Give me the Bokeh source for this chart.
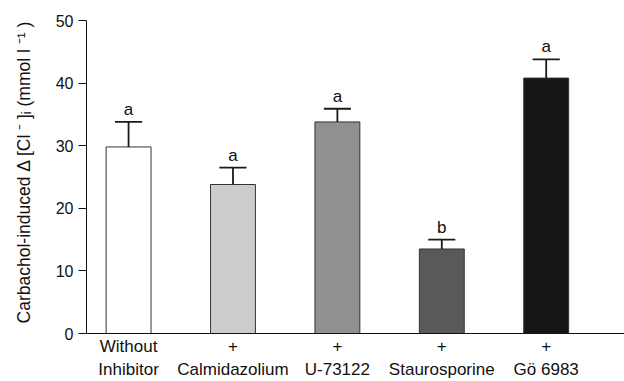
from bokeh.plotting import figure
from bokeh.embed import file_html
from bokeh.resources import INLINE
from bokeh.models import ColumnDataSource, Range1d, FixedTicker
from bokeh.core.properties import value

categories = ["Without\nInhibitor", "+\nCalmidazolium", "+\nU-73122", "+\nStaurosporine", "+\nGö 6983"]
means = [29.8, 23.8, 33.8, 13.5, 40.8]
errors = [4.0, 2.7, 2.1, 1.5, 3.0]
letters = ["a", "a", "a", "b", "a"]
colors = ["#ffffff", "#cbcccd", "#8f9091", "#58595b", "#161616"]
y_ticks = [0, 10, 20, 30, 40, 50]

xs = list(range(1, len(categories) + 1))
tops = [m + e for m, e in zip(means, errors)]
cap = 0.13

src = ColumnDataSource(dict(
    x=xs, mean=means, top=tops, color=colors, letter=letters,
    x0=[x - cap for x in xs], x1=[x + cap for x in xs],
))

FONT = "Liberation Sans"

p = figure(width=624, height=381, output_backend="svg", toolbar_location=None,
           x_range=Range1d(0.597, 5.75), y_range=Range1d(0, 50),
           min_border_left=86, min_border_top=20, min_border_bottom=47, min_border_right=0)

p.vbar(x="x", top="mean", bottom=0, width=0.43, fill_color="color",
       line_color="#333333", line_width=1, source=src)
p.segment(x0="x", y0="mean", x1="x", y1="top", line_color="#1a1a1a", line_width=1.8, source=src)
p.segment(x0="x0", y0="top", x1="x1", y1="top", line_color="#1a1a1a", line_width=1.8, source=src)
p.text(x="x", y="top", text="letter", text_align="center", text_baseline="bottom",
       y_offset=-3, text_font=value(FONT), text_font_size="17px", text_color="#111111", source=src)

p.xgrid.visible = False
p.ygrid.visible = False
p.outline_line_color = None

p.yaxis.ticker = FixedTicker(ticks=y_ticks)
p.yaxis.minor_tick_line_color = None
p.yaxis.major_tick_in = 0
p.yaxis.major_tick_out = 8
p.yaxis.major_label_standoff = 5
p.yaxis.major_label_text_font = FONT
p.yaxis.major_label_text_font_size = "16px"
p.yaxis.major_label_text_color = "#111111"
p.yaxis.axis_line_color = "#111111"
p.yaxis.major_tick_line_color = "#111111"
p.yaxis.axis_label = "\u00a0\u00a0\u00a0Carbachol-induced  \u0394 [Cl \u207b ]\u1d62 (mmol l \u207b\u00b9 )"
p.yaxis.axis_label_text_font = FONT
p.yaxis.axis_label_text_font_style = "normal"
p.yaxis.axis_label_text_font_size = "17.5px"
p.yaxis.axis_label_text_color = "#111111"
p.yaxis.axis_label_standoff = 19

p.xaxis.ticker = FixedTicker(ticks=xs)
p.xaxis.major_label_overrides = {x: c for x, c in zip(xs, categories)}
p.xaxis.minor_tick_line_color = None
p.xaxis.major_tick_line_color = None
p.xaxis.major_tick_out = 0
p.xaxis.major_label_standoff = 3
p.xaxis.major_label_text_font = FONT
p.xaxis.major_label_text_font_size = "17px"
p.xaxis.major_label_text_line_height = 1.22
p.xaxis.major_label_text_color = "#111111"
p.xaxis.axis_line_color = "#111111"

open("out.html", "w").write(file_html(p, INLINE))
